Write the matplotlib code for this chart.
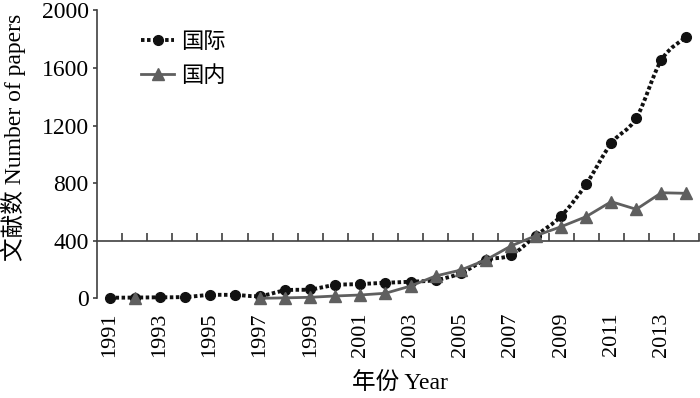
import numpy as np
import matplotlib
matplotlib.use('Agg')
import matplotlib.pyplot as plt
from matplotlib.lines import Line2D
from matplotlib.path import Path
from matplotlib.patches import PathPatch
import matplotlib.transforms as mtransforms

plt.rcParams['font.family'] = ['Liberation Serif', 'Noto Sans CJK SC']

years = list(range(1991, 2015))
intl = [4, 5, 7, 9, 23, 23, 16, 55, 62, 92, 99, 108, 115, 127, 174, 266,
        299, 435, 571, 792, 1076, 1252, 1655, 1817]
dom = [np.nan, 0, np.nan, np.nan, np.nan, np.nan, 0, 3, 7, 16, 23, 35, 85,
       155, 196, 266, 363, 435, 497, 567, 671, 618, 733, 729]
label_years = list(range(1991, 2014, 2))
yticks = [0, 400, 800, 1200, 1600, 2000]
series_names = ['国际', '国内']

AX = '#404040'
C_INTL = '#111111'
C_DOM = '#5f5f5f'
DOTS = (0, (0.9, 0.65))

fig = plt.figure(figsize=(7, 3.98), dpi=100)
ax = fig.add_axes([97 / 700, 1 - 298.3 / 398, 602 / 700, 288 / 398])

x = np.array(years, dtype=float)
yi = np.array(intl, dtype=float)

# smoothed line (Excel-like Bezier) for the international series
verts = [(x[0], yi[0])]
codes = [Path.MOVETO]
n = len(x)
for i in range(n - 1):
    p0 = np.array([x[max(i - 1, 0)], yi[max(i - 1, 0)]])
    p1 = np.array([x[i], yi[i]])
    p2 = np.array([x[i + 1], yi[i + 1]])
    p3 = np.array([x[min(i + 2, n - 1)], yi[min(i + 2, n - 1)]])
    c1 = p1 + (p2 - p0) / 6.0
    c2 = p2 - (p3 - p1) / 6.0
    verts += [tuple(c1), tuple(c2), tuple(p2)]
    codes += [Path.CURVE4] * 3
patch = PathPatch(Path(verts, codes), fill=False, edgecolor=C_INTL, lw=2.8,
                  linestyle=DOTS, capstyle='butt', zorder=3,
                  clip_on=False)
ax.add_patch(patch)
ax.plot(x, yi, linestyle='none', marker='o', ms=7, color=C_INTL, zorder=4,
        clip_on=False)

ax.plot(x, dom, color=C_DOM, lw=2.0, marker='^', ms=8.5, zorder=5,
        clip_on=False)

ax.set_xlim(1990.5, 2014.5)
ax.set_ylim(0, 2000)

for s in ['top', 'right']:
    ax.spines[s].set_visible(False)
ax.spines['bottom'].set_position(('data', 400))
ax.spines['bottom'].set_color(AX)
ax.spines['left'].set_color(AX)
ax.spines['bottom'].set_linewidth(1.2)
ax.spines['left'].set_linewidth(1.2)

ax.set_xticks([yr + 0.5 for yr in years])
ax.tick_params(axis='x', direction='in', length=6, width=1.2, color=AX,
               labelbottom=False)
ax.set_yticks(yticks)
ax.tick_params(axis='y', direction='out', length=3, width=1.2, color=AX,
               labelsize=17, pad=3)

trans = mtransforms.blended_transform_factory(ax.transData, ax.transAxes)
for yr in label_years:
    ax.text(yr, -0.05, str(yr), rotation=90, ha='center', va='top',
            fontsize=16, transform=trans)

fig.text(400 / 700, 1 - 383 / 398, '年份 Year', ha='center', va='center',
         fontsize=17)
fig.text(13 / 700, 1 - 137 / 398, '文献数 Number of papers', ha='center',
         va='center', rotation=90, fontsize=17)

handles = [
    Line2D([], [], color=C_INTL, lw=2.8, linestyle=DOTS,
           marker='o', ms=7),
    Line2D([], [], color=C_DOM, lw=2.0, marker='^', ms=8.5),
]
leg = fig.legend(handles, series_names, loc='upper left',
                 bbox_to_anchor=(130 / 700, 1 - 21 / 398), frameon=False,
                 fontsize=16, handlelength=1.5, handletextpad=0.3,
                 labelspacing=0.6, borderpad=0)

fig.savefig('out.png', dpi=100)
